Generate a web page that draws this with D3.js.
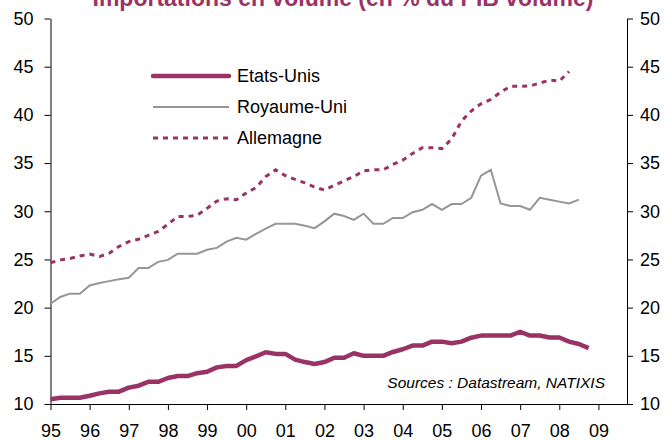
<!DOCTYPE html>
<html>
<head>
<meta charset="utf-8">
<script src="https://cdn.jsdelivr.net/npm/d3@7"></script>
<style>
  body { margin: 0; background: #fff; }
  svg { display: block; font-family: Arial, "Liberation Sans", sans-serif; }
</style>
</head>
<body>
<svg id="chart" width="668" height="441"></svg>
<script>
// quarterly series, first point = 1995 Q1
var startYear = 1995;

var etatsUnis = [
  10.5, 10.65, 10.65, 10.65, 10.85, 11.1, 11.28, 11.28, 11.7, 11.9,
  12.3, 12.3, 12.7, 12.9, 12.9, 13.2, 13.35, 13.8, 13.95, 13.95,
  14.55, 14.95, 15.37, 15.2, 15.2, 14.6, 14.35, 14.15, 14.35, 14.8,
  14.8, 15.27, 15.0, 15.0, 15.0, 15.4, 15.68, 16.06, 16.06, 16.47,
  16.47, 16.3, 16.47, 16.88, 17.1, 17.1, 17.1, 17.1, 17.5, 17.1,
  17.1, 16.9, 16.9, 16.47, 16.23, 15.8
];

var royaumeUni = [
  20.4, 21.1, 21.45, 21.45, 22.3, 22.55, 22.75, 22.95, 23.1, 24.1,
  24.1, 24.75, 24.95, 25.6, 25.6, 25.6, 26.0, 26.2, 26.85, 27.25,
  27.05, 27.65, 28.2, 28.7, 28.7, 28.7, 28.5, 28.25, 28.95, 29.75,
  29.5, 29.1, 29.75, 28.7, 28.7, 29.3, 29.3, 29.9, 30.15, 30.75,
  30.15, 30.75, 30.75, 31.4, 33.7, 34.3, 30.8, 30.55, 30.55, 30.15,
  31.4, 31.2, 31.0, 30.8, 31.2
];

var allemagne = [
  24.65, 24.95, 25.1, 25.35, 25.55, 25.3, 25.65, 26.35, 26.85, 27.1,
  27.5, 27.9, 28.65, 29.45, 29.45, 29.6, 30.3, 31.05, 31.3, 31.2,
  31.9, 32.45, 33.6, 34.3, 33.7, 33.3, 32.95, 32.5, 32.2, 32.7,
  33.15, 33.6, 34.2, 34.3, 34.3, 34.85, 35.3, 36.0, 36.6, 36.6,
  36.5, 37.5, 39.35, 40.4, 41.15, 41.6, 42.35, 42.97, 42.97, 43.0,
  43.3, 43.6, 43.5, 44.5
];

var yearTicks = [1995, 1996, 1997, 1998, 1999, 2000, 2001, 2002, 2003, 2004, 2005, 2006, 2007, 2008, 2009];
var yearLabels = ["95", "96", "97", "98", "99", "00", "01", "02", "03", "04", "05", "06", "07", "08", "09"];
var yTicks = [10, 15, 20, 25, 30, 35, 40, 45, 50];

var seriesNames = ["Etats-Unis", "Royaume-Uni", "Allemagne"];

var plum = "#993366",
    grey = "#969696";

var svg = d3.select("#chart");

var x = d3.scaleLinear().domain([1995, 2009.73]).range([50.5, 627]);
var y = d3.scaleLinear().domain([10, 50]).range([404, 18.5]);

// title, mostly cut off by the top edge (as in the original)
svg.append("text")
  .attr("x", 343)
  .attr("y", 5.5)
  .attr("text-anchor", "middle")
  .style("font-size", "23px")
  .style("font-weight", "bold")
  .style("fill", plum)
  .text("Importations en volume (en % du PIB volume)");

// axes
var left = svg.append("g")
  .attr("transform", "translate(" + x.range()[0] + ",0)")
  .call(d3.axisLeft(y).tickValues(yTicks).tickSize(6).tickSizeOuter(0).tickPadding(11));

var right = svg.append("g")
  .attr("transform", "translate(" + x.range()[1] + ",0)")
  .call(d3.axisRight(y).tickValues(yTicks).tickSize(6).tickSizeOuter(0).tickPadding(7));

var bottom = svg.append("g")
  .attr("transform", "translate(0," + y(10) + ")")
  .call(d3.axisBottom(x).tickValues(yearTicks).tickSize(6).tickSizeOuter(0)
    .tickFormat(function(d, i) { return yearLabels[i]; }));

bottom.selectAll("text").attr("y", 33).attr("dy", 0);

[left, right, bottom].forEach(function(g) {
  g.selectAll("text").style("font-size", "18px").style("fill", "#000")
    .style("font-family", "Arial, 'Liberation Sans', sans-serif");
  g.selectAll("line, path").attr("stroke", "#000").attr("stroke-width", 1);
});

// lines
var line = d3.line()
  .x(function(d, i) { return x(startYear + i / 4); })
  .y(function(d) { return y(d); });

svg.append("path")
  .datum(allemagne)
  .attr("d", line)
  .attr("fill", "none")
  .attr("stroke", plum)
  .attr("stroke-width", 3)
  .attr("stroke-dasharray", "5,5");

svg.append("path")
  .datum(royaumeUni)
  .attr("d", line)
  .attr("fill", "none")
  .attr("stroke", grey)
  .attr("stroke-width", 2);

svg.append("path")
  .datum(etatsUnis)
  .attr("d", line)
  .attr("fill", "none")
  .attr("stroke", plum)
  .attr("stroke-width", 4.5)
  .attr("stroke-linejoin", "round");

// legend
var legendStyles = [
  { color: plum, width: 4.5, dash: null },
  { color: grey, width: 2, dash: null },
  { color: plum, width: 3, dash: "5,5" }
];

var legend = svg.append("g").attr("transform", "translate(153,76)");

seriesNames.forEach(function(name, i) {
  var row = legend.append("g").attr("transform", "translate(0," + i * 31 + ")");
  row.append("line")
    .attr("x1", 0).attr("x2", 76)
    .attr("stroke", legendStyles[i].color)
    .attr("stroke-width", legendStyles[i].width)
    .attr("stroke-dasharray", legendStyles[i].dash)
    .attr("stroke-linecap", i == 0 ? "round" : "butt");
  row.append("text")
    .attr("x", 84)
    .attr("y", 6)
    .style("font-size", "18px")
    .text(name);
});

// source note
svg.append("text")
  .attr("x", 605)
  .attr("y", 388)
  .attr("text-anchor", "end")
  .style("font-size", "15.5px")
  .style("font-style", "italic")
  .text("Sources : Datastream, NATIXIS");
</script>
</body>
</html>
